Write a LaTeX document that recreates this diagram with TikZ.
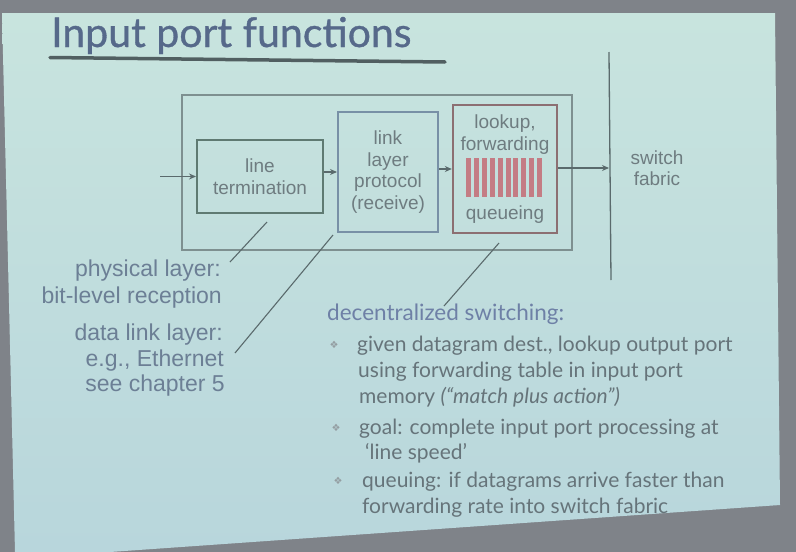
\documentclass[tikz,border=0pt]{standalone}
\usepackage{fontspec}
\setmainfont{Liberation Sans}
\newfontfamily\gill{Lato}
\newfontfamily\gilltitle[FakeBold=0.8]{Lato}
\newfontfamily\djv{DejaVu Sans}
\usetikzlibrary{arrows.meta}
\definecolor{bggray}{HTML}{7F8389}
\definecolor{slidetop}{HTML}{C8E4DE}
\definecolor{slidebot}{HTML}{B8D6DC}
\definecolor{titlec}{HTML}{56698A}
\definecolor{boxtext}{HTML}{6E7C80}
\definecolor{labc}{HTML}{6C7F95}
\definecolor{bodyc}{HTML}{66747A}
\definecolor{headc}{HTML}{6E80A6}
\definecolor{linec}{HTML}{5A6A6C}
\definecolor{outerc}{HTML}{7E9090}
\definecolor{ltc}{HTML}{5F7A72}
\definecolor{llc}{HTML}{7890A6}
\definecolor{lkc}{HTML}{8C6F72}
\definecolor{barc}{HTML}{C47C84}
\tikzset{
  boxtxt/.style={text=boxtext,font=\fontsize{19}{21.5}\selectfont,align=center},
  conn/.style={draw=linec,line width=1.4pt,-{Stealth[length=7pt,width=6pt]}},
  leader/.style={draw=linec,line width=1.1pt},
  leftlab/.style={text=labc,font=\fontsize{23}{25}\selectfont,anchor=base east,inner sep=0pt},
  bodytxt/.style={text=bodyc,font=\gill\fontsize{21}{24}\selectfont,anchor=base west,inner sep=0pt},
  bul/.style={text=bodyc!70,font=\djv\fontsize{10}{10}\selectfont,inner sep=0pt}
}
\begin{document}
\begin{tikzpicture}[x=1pt,y=-1pt]
\useasboundingbox (0,0) rectangle (796,552);
\fill[bggray] (0,0) rectangle (796,552);
\shade[top color=slidetop,bottom color=slidebot] (2,13) -- (775,13) -- (780,505) -- (110,552) -- (15,552) -- cycle;
% title
\node[anchor=base west,inner sep=0pt,text=titlec] (title) at (51,47) {\gilltitle\fontsize{41}{41}\selectfont Input port functions};
\coordinate (ul1) at (50,57.5);
\coordinate (ul2) at (445,62);
\draw[line width=3.5pt,color=linec!90!black,line cap=round] (ul1) -- (ul2);
% outer box
\draw[outerc,line width=1.3pt] (182,95) rectangle (572,250);
% boxes
\node[draw=ltc,line width=2pt,minimum width=126pt,minimum height=73pt,inner sep=0pt] (lt) at (260,176.5) {};
\node[boxtxt] at (lt.center) {line\\termination};
\node[draw=llc,line width=2pt,minimum width=100pt,minimum height=120pt,inner sep=0pt] (ll) at (388,172) {};
\node[boxtxt] at (ll.center) {link\\layer\\protocol\\(receive)};
\node[draw=lkc,line width=2.4pt,minimum width=104pt,minimum height=128pt,inner sep=0pt] (lk) at (505,169) {};
\node[boxtxt,anchor=base] (lkt) at (505,150) {lookup,\\forwarding};
\node[boxtxt,anchor=base] (lkq) at (505,219) {queueing};
\foreach \i in {0,...,9} {
  \fill[barc] (466+\i*7.9,158) rectangle (471+\i*7.9,197);
}
% arrows
\coordinate (inp) at (160,176.5);
\coordinate (sf) at (609,168);
\draw[conn] (inp) -- (lt.west);
\draw[conn] (lt.east |- ll.west) -- (ll.west);
\draw[conn] (ll.east |- lk.west) -- (lk.west);
\draw[conn] (lk.east |- sf) -- (sf);
% fabric line
\coordinate (v1) at (609,52);
\coordinate (v2) at (611,280);
\draw[linec,line width=1.3pt] (v1) -- (v2);
\node[boxtxt] (fab) at (657,168) {switch\\fabric};
% leaders
\coordinate (a1) at (267,222);
\coordinate (a2) at (230,262);
\coordinate (b1) at (333,235);
\coordinate (b2) at (235,353);
\coordinate (c1) at (499,243);
\coordinate (c2) at (444,306);
\draw[leader] (a1) -- (a2);
\draw[leader] (b1) -- (b2);
\draw[leader] (c1) -- (c2);
% left labels
\node[leftlab] (pl1) at (221,276) {physical layer:};
\node[leftlab] (pl2) at (222,303) {bit-level reception};
\node[leftlab] (dl1) at (223,340) {data link layer:};
\node[leftlab] (dl2) at (224,366) {e.g., Ethernet};
\node[leftlab] (dl3) at (225,391) {see chapter 5};
% right text
\node[bodytxt,text=headc,font=\gill\fontsize{22.5}{24}\selectfont] (hd) at (327,320) {decentralized switching:};
\node[bul] (u1) at (334,345) {❖};
\node[bodytxt] (t11) at (357,351) {given datagram dest., lookup output port};
\node[bodytxt] (t12) at (358,377) {using forwarding table in input port};
\node[bodytxt] (t13) at (359,403) {memory \textit{(“match plus action”)}};
\node[bul] (u2) at (336,428) {❖};
\node[bodytxt] (t21) at (359,434) {goal: complete input port processing at};
\node[bodytxt] (t22) at (365,459) {‘line speed’};
\node[bul] (u3) at (338,481) {❖};
\node[bodytxt] (t31) at (362,487) {queuing: if datagrams arrive faster than};
\node[bodytxt] (t32) at (362,513) {forwarding rate into switch fabric};
\end{tikzpicture}
\end{document}
